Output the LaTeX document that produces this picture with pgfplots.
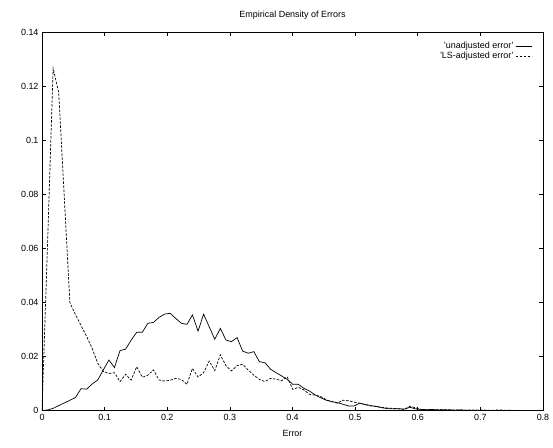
\documentclass[border=0pt]{standalone}
\usepackage{fontspec}
\setmainfont{Liberation Sans}
\usepackage{pgfplots}
\usepackage{pgfplotstable}
\pgfplotsset{compat=1.18}

% error density, bins of width ~0.0089
\pgfplotstableread{
x      un      ls
0      0       0
0.0089 0.0002  0.0620
0.0178 0.0008  0.1267
0.0267 0.0018  0.1177
0.0356 0.0028  0.0790
0.0445 0.0038  0.0400
0.0534 0.0048  0.0355
0.0623 0.0081  0.0315
0.0712 0.0079  0.0275
0.0801 0.0098  0.0230
0.0890 0.0113  0.0175
0.0979 0.0150  0.0145
0.1068 0.0187  0.0137
0.1157 0.0159  0.0140
0.1246 0.0222  0.0107
0.1335 0.0227  0.0134
0.1424 0.0261  0.0113
0.1513 0.0290  0.0162
0.1602 0.0290  0.0123
0.1691 0.0323  0.0131
0.1780 0.0326  0.0150
0.1869 0.0345  0.0113
0.1958 0.0357  0.0109
0.2047 0.0360  0.0112
0.2136 0.0341  0.0119
0.2225 0.0323  0.0115
0.2314 0.0319  0.0097
0.2403 0.0354  0.0156
0.2492 0.0294  0.0124
0.2581 0.0357  0.0140
0.2670 0.0310  0.0183
0.2759 0.0264  0.0148
0.2848 0.0304  0.0206
0.2937 0.0261  0.0166
0.3026 0.0255  0.0147
0.3115 0.0270  0.0166
0.3204 0.0220  0.0171
0.3293 0.0212  0.0150
0.3382 0.0218  0.0131
0.3471 0.0181  0.0115
0.3560 0.0177  0.0107
0.3649 0.0153  0.0119
0.3738 0.0140  0.0116
0.3827 0.0128  0.0110
0.3916 0.0115  0.0125
0.4005 0.0097  0.0078
0.4094 0.0097  0.0086
0.4183 0.0082  0.0076
0.4272 0.0072  0.0060
0.4361 0.0058  0.0057
0.4450 0.0047  0.0052
0.4539 0.0038  0.0040
0.4628 0.0033  0.0033
0.4717 0.0029  0.0027
0.4806 0.0023  0.0038
0.4895 0.0017  0.0036
0.4984 0.0017  0.0031
0.5073 0.0027  0.0027
0.5162 0.0022  0.0022
0.5251 0.0018  0.0017
0.5340 0.0015  0.0015
0.5429 0.0010  0.0012
0.5518 0.0007  0.0009
0.5607 0.0006  0.0008
0.5696 0.0007  0.0006
0.5785 0.0005  0.0004
0.5874 0.0012  0.0016
0.5963 0.0006  0.0010
0.6052 0.0004  0.0004
0.6141 0.0003  0.0003
0.6230 0.0004  0.0002
0.6319 0.0002  0.0003
0.6408 0.0003  0.0002
0.6497 0.0002  0.0003
0.6586 0.0001  0.0002
0.6675 0.0002  0.0002
0.6764 0.0001  0.0001
0.6853 0       0.0002
0.6942 0.0001  0.0001
0.7031 0       0.0002
0.7120 0       0.0001
0.7209 0       0.0001
0.7298 0       0.0002
0.7387 0       0.0001
0.7476 0       0.0001
0.7565 0       0
}\errtab

\begin{document}
\begin{tikzpicture}
\begin{axis}[
    scale only axis,
    width=501bp, height=378bp,
    xmin=0, xmax=0.8, ymin=0, ymax=0.14,
    xtick={0,0.1,...,0.8},
    ytick={0,0.02,...,0.14},
    scaled x ticks=false, scaled y ticks=false,
    /pgf/number format/assume math mode=true,
    /pgf/number format/fixed,
    /pgf/number format/precision=2,
    tick label style={font=\fontsize{9}{10}\selectfont},
    label style={font=\fontsize{9}{10}\selectfont},
    title style={font=\fontsize{9}{10}\selectfont, yshift=4bp},
    title={Empirical Density of Errors},
    xlabel={Error},
    xlabel style={yshift=-3bp},
    tick align=inside,
    major tick length=4bp,
    axis line style={line width=0.7bp},
    every tick/.style={line width=0.6bp, black},
    legend style={draw=none, fill=none, at={(0.985,0.985)}, anchor=north east,
        font=\fontsize{9}{10}\selectfont, row sep=-2bp},
    legend cell align=right,
    legend plot pos=right,
    legend image code/.code={\draw[#1] (0bp,0bp) -- (16bp,0bp);},
]
\addplot[black, line width=0.7bp] table[x=x, y=un] {\errtab};
\addlegendentry{'unadjusted error'}
\addplot[black, line width=0.7bp, dash pattern=on 2.5bp off 1.5bp] table[x=x, y=ls] {\errtab};
\addlegendentry{'LS-adjusted error'}
\end{axis}
\path (-42bp,-37.5bp) rectangle (511bp,410.5bp);
\end{tikzpicture}
\end{document}
